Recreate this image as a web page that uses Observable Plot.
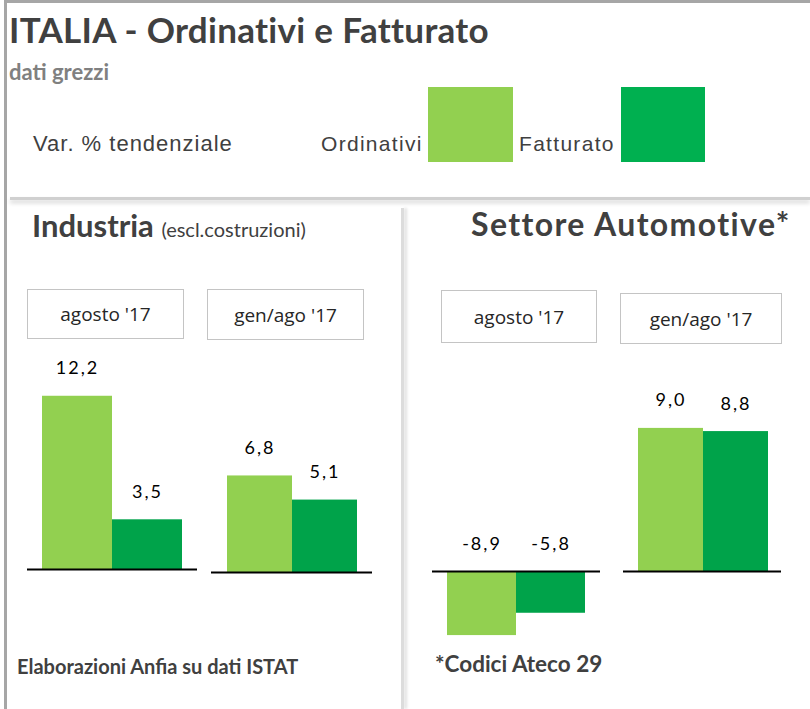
<!DOCTYPE html>
<html>
<head>
<meta charset="utf-8">
<script src="https://cdn.jsdelivr.net/npm/d3@7"></script>
<script src="https://cdn.jsdelivr.net/npm/@observablehq/plot@0.6"></script>
<style>
  html, body { margin: 0; padding: 0; background: #fff; }
  #page { position: relative; width: 810px; height: 709px; overflow: hidden; background: #fff; font-family: Lato, "Open Sans", sans-serif; }
  .abs { position: absolute; white-space: nowrap; }
  .box { position: absolute; border: 1.5px solid #c4c4c4; box-sizing: border-box; display: flex; align-items: center; justify-content: center; font-family: "Open Sans", sans-serif; font-size: 19px; color: #262626; }
</style>
</head>
<body>
<div id="page"></div>
<script>
// ---- data ----
const series = ["Ordinativi", "Fatturato"];
const periods = ["agosto '17", "gen/ago '17"];
const industriaAgosto = [12.2, 3.5];
const industriaGenAgo = [6.8, 5.1];
const automotiveAgosto = [-8.9, -5.8];
const automotiveGenAgo = [9.0, 8.8];
const barColors = ["#92d050", "#00a34a"];
const legendColors = ["#92d050", "#00b050"];

const page = document.getElementById("page");
function add(html, css) {
  const d = document.createElement("div");
  d.className = "abs";
  d.innerHTML = html;
  Object.assign(d.style, css);
  page.appendChild(d);
  return d;
}

// frame
add("", {left: "4px", top: "0px", width: "3px", height: "709px", background: "#a6a6a6"});
add("", {left: "4px", top: "0px", width: "806px", height: "3px", background: "#a6a6a6"});
// header shadow line
add("", {left: "10px", top: "197px", width: "800px", height: "3px", background: "#d0d0d0", boxShadow: "0 3px 4px rgba(0,0,0,0.18)"});
// vertical divider
add("", {left: "401px", top: "208px", width: "3px", height: "501px", background: "#dcdcdc", boxShadow: "3px 0 3px rgba(0,0,0,0.12)"});

const narrow = "'Liberation Sans Narrow', 'Liberation Sans', sans-serif";
// header texts
add("ITALIA - Ordinativi e Fatturato", {left: "9px", top: "7px", fontSize: "35px", letterSpacing: "0.3px", fontWeight: "700", color: "#404040", lineHeight: "44px"});
add("dati grezzi", {left: "9px", top: "59px", fontSize: "22px", fontWeight: "700", color: "#808080", lineHeight: "26px"});
add("Var. % tendenziale", {left: "33px", top: "131px", fontSize: "22px", letterSpacing: "1px", fontFamily: narrow, color: "#404040", lineHeight: "26px"});
add(series[0], {left: "321px", top: "131px", fontSize: "21px", letterSpacing: "1.3px", fontFamily: narrow, color: "#404040", lineHeight: "26px"});
add(series[1], {left: "519px", top: "131px", fontSize: "21px", letterSpacing: "1.3px", fontFamily: narrow, color: "#404040", lineHeight: "26px"});
add("", {left: "428px", top: "87px", width: "85px", height: "75px", background: legendColors[0]});
add("", {left: "621px", top: "87px", width: "84px", height: "75px", background: legendColors[1]});

// section titles
add('Industria <span style="font-weight:400;font-size:20px;letter-spacing:0">(escl.costruzioni)</span>', {left: "32px", top: "206px", fontSize: "31px", fontWeight: "700", color: "#404040", lineHeight: "38px"});
add("Settore Automotive*", {left: "471px", top: "205px", fontSize: "32px", letterSpacing: "1.4px", fontWeight: "700", color: "#404040", lineHeight: "38px"});

// period boxes
function box(text, l, t, w, h) {
  const d = document.createElement("div");
  d.className = "box";
  d.textContent = text;
  Object.assign(d.style, {left: l + "px", top: t + "px", width: w + "px", height: h + "px"});
  page.appendChild(d);
}
box(periods[0], 27, 289, 157, 50);
box(periods[1], 207, 289, 157, 51);
box(periods[0], 441, 290, 156, 53);
box(periods[1], 620, 293, 162, 51);

// footers
add("Elaborazioni Anfia su dati ISTAT", {left: "17px", top: "654px", fontSize: "20px", fontWeight: "700", color: "#404040", lineHeight: "24px"});
add("*Codici Ateco 29", {left: "435px", top: "651px", fontSize: "22.5px", fontWeight: "700", color: "#404040", lineHeight: "26px"});

// ---- charts ----
const fmt = v => v.toFixed(1).replace(".", ",");
function panel(values, opts) {
  const data = series.map((s, i) => ({serie: s, value: values[i]}));
  const chart = Plot.plot({
    width: opts.width,
    height: 310,
    marginTop: 0, marginBottom: 0, marginLeft: 0, marginRight: 0,
    x: {domain: series, range: opts.xRange, padding: 0, axis: null},
    y: {domain: opts.yDomain, range: opts.yRange, axis: null},
    color: {domain: series, range: barColors},
    style: {fontFamily: "Lato, sans-serif", letterSpacing: "2px", background: "transparent", overflow: "visible"},
    marks: [
      Plot.barY(data, {x: "serie", y: "value", fill: "serie", inset: 0}),
      Plot.ruleY([0], {stroke: "#000", strokeWidth: 2}),
      Plot.text(data, {x: "serie", y: d => Math.max(0, d.value), text: d => fmt(d.value), lineAnchor: "bottom", dy: -22, fontSize: 18, fill: "#000"})
    ]
  });
  chart.style.position = "absolute";
  chart.style.left = opts.left + "px";
  chart.style.top = "345px";
  page.appendChild(chart);
}
// Industria agosto
panel(industriaAgosto, {left: 27, width: 170, xRange: [15, 155], yDomain: [0, 15], yRange: [224, 224 - 15 * 14.2]});
// Industria gen/ago
panel(industriaGenAgo, {left: 211, width: 161, xRange: [15, 146], yDomain: [0, 15], yRange: [227, 227 - 15 * 14.2]});
// Automotive agosto
panel(automotiveAgosto, {left: 432, width: 168, xRange: [15, 153], yDomain: [-10, 0], yRange: [226 + 10 * 7.2, 226]});
// Automotive gen/ago
panel(automotiveGenAgo, {left: 623, width: 158, xRange: [14, 145], yDomain: [0, 12], yRange: [226, 226 - 12 * 15.9]});
</script>
</body>
</html>
